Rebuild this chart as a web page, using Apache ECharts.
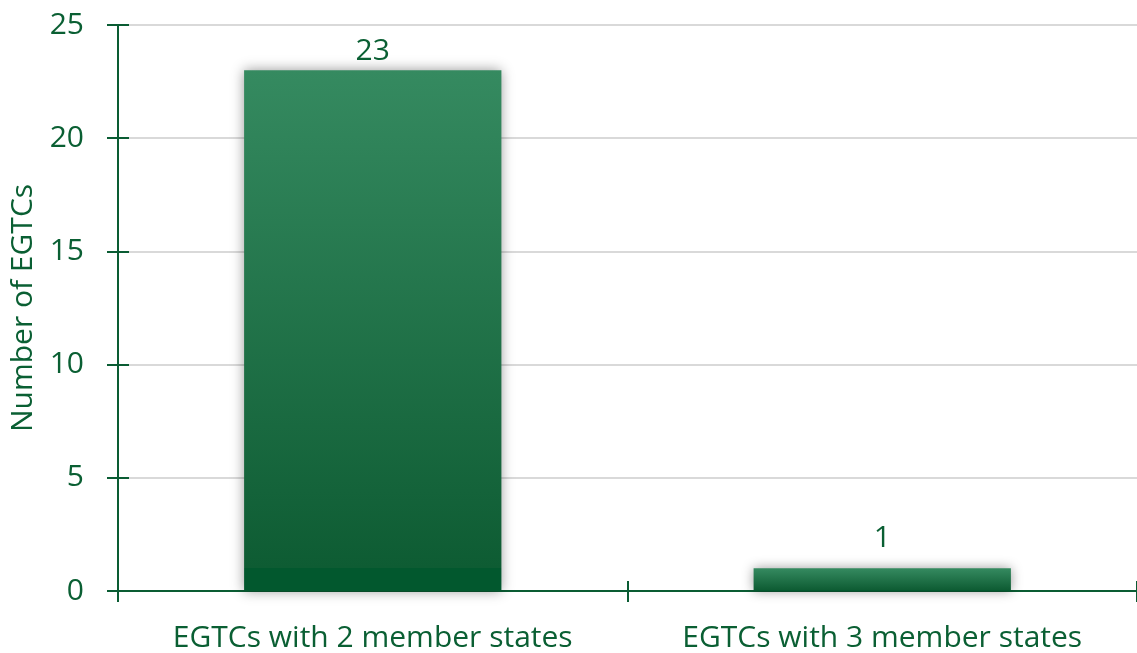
<!DOCTYPE html>
<html>
<head>
<meta charset="utf-8">
<script src="https://cdn.jsdelivr.net/npm/echarts@6/dist/echarts.min.js"></script>
<style>
  html, body { margin: 0; padding: 0; background: #ffffff; }
  #chart { width: 1137px; height: 653px; }
</style>
</head>
<body>
<div id="chart"></div>
<script>
// Number of EGTCs by count of member states
const categories = ['EGTCs with 2 member states', 'EGTCs with 3 member states'];
const counts = [23, 1];
const yAxisTitle = 'Number of EGTCs';

const textColor = '#0a5f33';
const axisColor = '#0a5c33';
const font = 'Open Sans';
const fontSize = 30;

const barFill = new echarts.graphic.LinearGradient(0, 0, 0, 1, [
  { offset: 0, color: '#358a60' },
  { offset: 0.955, color: '#0e5c33' },
  { offset: 0.956, color: '#02582e' },
  { offset: 1, color: '#02582e' }
]);

// short bars get their value label lifted a little higher
const barData = counts.map(v => (v < 5 ? { value: v, label: { distance: 15 } } : v));

const chart = echarts.init(document.getElementById('chart'), null, { renderer: 'canvas' });

chart.setOption({
  animation: false,
  grid: { left: 118, right: 0, top: 25, bottom: 62, containLabel: false },
  xAxis: [
    {
      type: 'category',
      data: categories,
      axisLine: { show: true, lineStyle: { color: axisColor, width: 2 } },
      axisTick: { show: true, inside: false, length: 11, lineStyle: { color: axisColor, width: 2 } },
      axisLabel: { interval: 0, hideOverlap: false, color: textColor, fontFamily: font, fontSize: fontSize, margin: 32 }
    },
    {
      // inner half of the crossing ticks
      type: 'category',
      data: categories,
      position: 'bottom',
      axisLine: { show: false },
      axisTick: { show: true, inside: true, length: 10, lineStyle: { color: axisColor, width: 2 } },
      axisLabel: { show: false }
    }
  ],
  yAxis: [
    {
      type: 'value',
      min: 0,
      max: 25,
      interval: 5,
      name: yAxisTitle,
      nameLocation: 'middle',
      nameGap: 80,
      nameTextStyle: { color: textColor, fontFamily: font, fontSize: fontSize },
      axisLine: { show: true, lineStyle: { color: axisColor, width: 2 } },
      axisTick: { show: true, inside: false, length: 11, lineStyle: { color: axisColor, width: 2 } },
      axisLabel: { color: textColor, fontFamily: font, fontSize: fontSize, margin: 34 },
      splitLine: { show: true, lineStyle: { color: '#d9d9d9', width: 2 } }
    },
    {
      // inner half of the crossing ticks
      type: 'value',
      min: 0,
      max: 25,
      interval: 5,
      position: 'left',
      axisLine: { show: false },
      axisTick: { show: true, inside: true, length: 11, lineStyle: { color: axisColor, width: 2 } },
      axisLabel: { show: false },
      splitLine: { show: false }
    }
  ],
  series: [
    {
      type: 'bar',
      data: barData,
      barWidth: '50.5%',
      itemStyle: {
        color: barFill,
        shadowBlur: 12,
        shadowColor: 'rgba(0,0,0,0.4)',
        shadowOffsetX: 0,
        shadowOffsetY: 0
      },
      label: {
        show: true,
        position: 'top',
        distance: 4,
        color: textColor,
        fontFamily: font,
        fontSize: fontSize
      }
    }
  ]
});
</script>
</body>
</html>
